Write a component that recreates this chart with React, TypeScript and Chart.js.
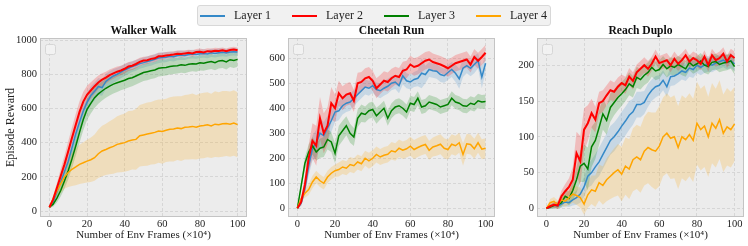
import React, { useEffect, useRef } from 'react';
import { Chart, registerables } from 'chart.js';

Chart.register(...registerables);

const FONT = "'Liberation Serif', 'Times New Roman', Times, serif";
const TEXT = '#222222';
const PLOT_BG = '#ececec';
const GRID = '#d6d6d6';
const FRAME = '#c4c4c4';

const FRAMES = [0, 2, 4, 6, 8, 10, 12, 14, 16, 18, 20, 22, 24, 26, 28, 30, 32, 34, 36, 38, 40, 42, 44, 46, 48, 50, 52, 54, 56, 58, 60, 62, 64, 66, 68, 70, 72, 74, 76, 78, 80, 82, 84, 86, 88, 90, 92, 94, 96, 98, 100];
const X_TICKS = [0, 20, 40, 60, 80, 100];
const LAYERS = ['Layer 1', 'Layer 2', 'Layer 3', 'Layer 4'];
const COLORS = ['#3589c8', '#ff0000', '#008000', '#ffa500'];
const X_TITLE = 'Number of Env Frames (×10⁴)';

// ---------- Walker Walk ----------
const WALKER_TICKS = [0, 200, 400, 600, 800, 1000];
const WALKER_L1 = [22, 55, 110, 170, 230, 290, 370, 450, 520, 585, 635, 675, 700, 728, 722, 758, 775, 790, 800, 812, 825, 835, 845, 852, 862, 868, 875, 880, 888, 895, 898, 900, 905, 903, 910, 912, 910, 916, 918, 915, 920, 921, 918, 925, 922, 926, 928, 925, 930, 932, 930];
const WALKER_L2 = [22, 68, 136, 205, 273, 350, 428, 505, 580, 640, 680, 705, 730, 752, 768, 780, 795, 805, 815, 822, 832, 845, 850, 860, 872, 880, 882, 890, 893, 905, 905, 910, 912, 915, 920, 918, 922, 925, 922, 930, 932, 928, 935, 933, 938, 936, 940, 935, 942, 945, 940];
const WALKER_L3 = [22, 40, 75, 120, 175, 235, 305, 380, 460, 535, 595, 630, 663, 685, 702, 718, 731, 742, 750, 758, 765, 775, 780, 790, 800, 810, 815, 820, 825, 835, 838, 840, 845, 848, 850, 855, 852, 858, 862, 860, 867, 865, 870, 875, 868, 878, 880, 872, 885, 880, 887];
const WALKER_L4 = [22, 70, 117, 160, 200, 225, 244, 258, 273, 282, 292, 300, 312, 335, 351, 360, 370, 378, 390, 395, 400, 410, 415, 419, 440, 445, 450, 455, 460, 468, 465, 472, 478, 480, 485, 482, 490, 492, 495, 490, 497, 500, 505, 498, 508, 505, 510, 512, 508, 515, 505];
const WALKER_L1_SD = [4, 15, 25, 38, 48, 55, 60, 62, 62, 60, 58, 55, 52, 50, 48, 45, 42, 40, 38, 36, 35, 33, 32, 32, 30, 30, 30, 30, 30, 30, 30, 30, 28, 28, 28, 28, 26, 26, 26, 25, 25, 25, 24, 24, 24, 24, 23, 23, 22, 22, 22];
const WALKER_L2_SD = [4, 18, 30, 42, 52, 58, 62, 64, 62, 58, 52, 48, 44, 40, 38, 35, 33, 31, 30, 28, 28, 26, 25, 25, 24, 23, 22, 22, 22, 21, 21, 20, 20, 20, 19, 19, 19, 18, 18, 18, 18, 18, 17, 17, 17, 17, 16, 16, 16, 16, 16];
const WALKER_L3_SD = [4, 15, 25, 35, 45, 50, 55, 58, 60, 62, 62, 60, 60, 58, 56, 55, 55, 54, 54, 52, 52, 52, 50, 50, 50, 50, 50, 48, 48, 48, 48, 48, 47, 47, 46, 46, 46, 45, 45, 45, 45, 45, 44, 44, 44, 44, 44, 44, 43, 43, 43];
const WALKER_L4_SD = [5, 22, 38, 55, 70, 85, 98, 108, 115, 120, 125, 130, 135, 142, 148, 150, 155, 160, 165, 168, 170, 175, 172, 178, 180, 182, 185, 183, 186, 185, 188, 185, 188, 190, 187, 190, 188, 190, 192, 188, 190, 192, 190, 188, 192, 190, 192, 190, 191, 192, 190];

// ---------- Cheetah Run ----------
const CHEETAH_TICKS = [0, 100, 200, 300, 400, 500, 600];
const CHEETAH_L1 = [0, 20, 80, 170, 240, 260, 300, 290, 320, 350, 385, 390, 410, 420, 425, 440, 455, 470, 485, 480, 490, 475, 470, 480, 488, 500, 505, 490, 530, 510, 505, 515, 520, 540, 535, 555, 550, 548, 535, 530, 543, 555, 540, 518, 560, 570, 560, 575, 590, 525, 580];
const CHEETAH_L2 = [0, 25, 95, 200, 270, 250, 360, 300, 330, 420, 400, 460, 440, 455, 460, 430, 500, 505, 520, 525, 510, 480, 495, 510, 505, 520, 530, 525, 550, 555, 575, 565, 570, 580, 590, 595, 585, 580, 575, 568, 560, 570, 580, 585, 590, 595, 575, 605, 590, 605, 622];
const CHEETAH_L3 = [0, 90, 180, 225, 250, 225, 240, 245, 275, 265, 220, 290, 310, 330, 300, 285, 360, 380, 375, 390, 395, 370, 385, 400, 360, 390, 405, 410, 400, 385, 420, 415, 440, 405, 410, 425, 420, 415, 405, 410, 415, 440, 425, 420, 410, 408, 420, 415, 430, 425, 427];
const CHEETAH_L4 = [0, 40, 60, 75, 105, 125, 110, 100, 125, 140, 150, 155, 165, 160, 175, 170, 185, 178, 200, 190, 200, 215, 205, 212, 216, 230, 225, 240, 232, 238, 248, 235, 243, 250, 255, 232, 245, 250, 256, 240, 235, 256, 250, 262, 215, 258, 255, 238, 262, 236, 240];
const CHEETAH_L1_SD = [2, 10, 25, 40, 50, 55, 60, 55, 50, 45, 40, 38, 35, 35, 35, 32, 30, 30, 30, 30, 28, 28, 30, 30, 30, 28, 28, 30, 35, 30, 30, 30, 32, 60, 35, 30, 28, 30, 30, 28, 30, 30, 35, 40, 35, 30, 32, 35, 30, 45, 35];
const CHEETAH_L2_SD = [2, 15, 35, 55, 70, 80, 85, 80, 75, 65, 55, 50, 48, 45, 45, 45, 42, 40, 40, 40, 40, 40, 38, 38, 38, 38, 36, 36, 36, 35, 35, 35, 35, 35, 35, 34, 34, 34, 34, 34, 34, 33, 33, 33, 33, 33, 32, 32, 32, 32, 32];
const CHEETAH_L3_SD = [2, 15, 25, 30, 35, 35, 38, 40, 40, 40, 40, 40, 40, 38, 38, 36, 35, 35, 32, 32, 32, 32, 30, 30, 30, 30, 30, 30, 30, 30, 30, 30, 28, 28, 28, 28, 28, 28, 28, 28, 28, 28, 28, 28, 28, 28, 28, 28, 28, 28, 28];
const CHEETAH_L4_SD = [2, 10, 18, 22, 25, 25, 25, 25, 25, 25, 25, 28, 28, 28, 30, 30, 30, 30, 30, 32, 32, 32, 32, 33, 33, 35, 35, 35, 35, 35, 38, 38, 38, 38, 38, 38, 38, 40, 40, 40, 40, 40, 40, 40, 45, 40, 40, 40, 40, 40, 40];

// ---------- Reach Duplo ----------
const REACH_TICKS = [0, 50, 100, 150, 200];
const REACH_L1 = [0, 2, 5, 3, 6, 9, 8, 12, 15, 20, 30, 45, 50, 58, 65, 75, 85, 95, 100, 107, 115, 122, 130, 135, 145, 145, 148, 158, 165, 170, 172, 179, 170, 184, 185, 188, 192, 190, 196, 194, 200, 197, 200, 202, 200, 203, 205, 207, 204, 206, 202];
const REACH_L2 = [0, 3, 5, 4, 17, 24, 30, 40, 77, 66, 110, 119, 133, 124, 147, 150, 158, 165, 163, 170, 175, 172, 184, 178, 190, 195, 200, 195, 202, 212, 203, 205, 207, 200, 209, 202, 207, 214, 205, 210, 207, 202, 212, 200, 214, 207, 210, 216, 205, 214, 210];
const REACH_L3 = [0, 2, 4, 5, 8, 17, 14, 25, 40, 59, 63, 55, 86, 95, 113, 132, 123, 141, 148, 155, 160, 166, 174, 170, 183, 180, 186, 190, 197, 192, 194, 201, 195, 199, 197, 201, 198, 195, 204, 199, 202, 206, 200, 198, 204, 205, 201, 203, 204, 206, 198];
const REACH_L4 = [0, 8, 10, 5, 12, 10, 15, 20, 18, 15, 6, 19, 26, 24, 36, 32, 40, 45, 50, 54, 48, 59, 55, 68, 72, 68, 80, 85, 82, 80, 87, 100, 105, 98, 100, 85, 100, 96, 103, 95, 119, 110, 115, 100, 119, 112, 124, 105, 114, 110, 118];
const REACH_L1_SD = [1, 3, 4, 4, 5, 6, 6, 8, 10, 12, 14, 16, 18, 18, 20, 20, 20, 20, 20, 20, 20, 20, 20, 18, 18, 18, 16, 16, 15, 15, 14, 14, 14, 13, 13, 12, 12, 12, 12, 12, 11, 11, 11, 11, 10, 10, 10, 10, 10, 10, 10];
const REACH_L2_SD = [1, 3, 4, 5, 8, 10, 12, 18, 30, 35, 30, 25, 20, 18, 16, 15, 14, 14, 13, 13, 12, 12, 12, 12, 11, 11, 11, 11, 10, 10, 10, 10, 10, 10, 10, 10, 10, 9, 9, 9, 9, 9, 9, 9, 9, 9, 9, 9, 9, 9, 9];
const REACH_L3_SD = [1, 3, 4, 5, 6, 8, 10, 14, 18, 22, 26, 30, 28, 26, 24, 22, 20, 20, 18, 18, 17, 16, 16, 15, 15, 14, 14, 14, 13, 13, 13, 12, 12, 12, 12, 12, 12, 11, 11, 11, 11, 11, 11, 11, 11, 11, 11, 11, 11, 11, 11];
const REACH_L4_SD = [1, 5, 6, 6, 8, 8, 10, 12, 13, 14, 15, 18, 20, 22, 25, 27, 30, 32, 34, 36, 38, 40, 42, 44, 45, 46, 48, 50, 52, 54, 56, 55, 56, 57, 58, 58, 58, 58, 58, 58, 58, 57, 57, 56, 56, 55, 55, 54, 54, 53, 52];

type PanelCfg = {
  title: string;
  left: number;
  width: number;
  axisWidth: number;
  padRight: number;
  yMin: number;
  yMax: number;
  yTicks: number[];
  yTitle: string | null;
  means: number[][];
  sds: number[][];
};

const PANELS: PanelCfg[] = [
  {
    title: 'Walker Walk', left: 0, width: 250, axisWidth: 40, padRight: 3,
    yMin: -35, yMax: 1012, yTicks: WALKER_TICKS, yTitle: 'Episode Reward',
    means: [WALKER_L1, WALKER_L2, WALKER_L3, WALKER_L4],
    sds: [WALKER_L1_SD, WALKER_L2_SD, WALKER_L3_SD, WALKER_L4_SD],
  },
  {
    title: 'Cheetah Run', left: 250, width: 250, axisWidth: 38, padRight: 5,
    yMin: -35, yMax: 681, yTicks: CHEETAH_TICKS, yTitle: null,
    means: [CHEETAH_L1, CHEETAH_L2, CHEETAH_L3, CHEETAH_L4],
    sds: [CHEETAH_L1_SD, CHEETAH_L2_SD, CHEETAH_L3_SD, CHEETAH_L4_SD],
  },
  {
    title: 'Reach Duplo', left: 500, width: 248, axisWidth: 37, padRight: 4,
    yMin: -12, yMax: 238, yTicks: REACH_TICKS, yTitle: null,
    means: [REACH_L1, REACH_L2, REACH_L3, REACH_L4],
    sds: [REACH_L1_SD, REACH_L2_SD, REACH_L3_SD, REACH_L4_SD],
  },
];

// draw priority: lower = drawn later (on top)
const LINE_ORDER = [4, 1, 3, 2];

function rgba(hex: string, a: number) {
  const n = parseInt(hex.slice(1), 16);
  return `rgba(${(n >> 16) & 255},${(n >> 8) & 255},${n & 255},${a})`;
}

function buildDatasets(cfg: PanelCfg) {
  const ds: any[] = [];
  for (let i = 0; i < 4; i++) {
    const m = cfg.means[i];
    const s = cfg.sds[i];
    ds.push({
      label: LAYERS[i] + ' upper',
      data: FRAMES.map((x, k) => ({ x, y: m[k] + s[k] })),
      borderWidth: 0,
      borderColor: 'rgba(0,0,0,0)',
      pointRadius: 0,
      fill: '+1',
      backgroundColor: rgba(COLORS[i], 0.2),
      order: 20 + LINE_ORDER[i],
    });
    ds.push({
      label: LAYERS[i] + ' lower',
      data: FRAMES.map((x, k) => ({ x, y: m[k] - s[k] })),
      borderWidth: 0,
      borderColor: 'rgba(0,0,0,0)',
      pointRadius: 0,
      fill: false,
      order: 20 + LINE_ORDER[i],
    });
  }
  for (let i = 0; i < 4; i++) {
    const m = cfg.means[i];
    ds.push({
      label: LAYERS[i],
      data: FRAMES.map((x, k) => ({ x, y: m[k] })),
      borderColor: COLORS[i],
      borderWidth: i === 1 ? 2 : 1.5,
      pointRadius: 0,
      fill: false,
      tension: 0,
      order: LINE_ORDER[i],
    });
  }
  return ds;
}

const framePlugin = {
  id: 'axesFrame',
  beforeDraw(chart: any) {
    const { ctx, chartArea: a } = chart;
    ctx.save();
    ctx.fillStyle = PLOT_BG;
    ctx.fillRect(a.left, a.top, a.right - a.left, a.bottom - a.top);
    ctx.restore();
  },
  afterDraw(chart: any) {
    const { ctx, chartArea: a } = chart;
    const title = chart.options.plugins.panelTitle.text;
    ctx.save();
    ctx.lineWidth = 1;
    ctx.fillStyle = 'rgba(243,243,243,0.9)';
    ctx.strokeStyle = '#d6d6d6';
    ctx.beginPath();
    ctx.roundRect(a.left + 5.5, a.top + 6.5, 10, 10, 2);
    ctx.fill();
    ctx.stroke();
    ctx.strokeStyle = FRAME;
    ctx.strokeRect(a.left + 0.5, a.top + 0.5, a.right - a.left - 1, a.bottom - a.top - 1);
    // panel title, centred over the plot area
    ctx.fillStyle = '#111111';
    ctx.font = `bold 11.6px ${FONT}`;
    ctx.textAlign = 'center';
    ctx.textBaseline = 'alphabetic';
    ctx.fillText(title, (a.left + a.right) / 2, 34);
    ctx.restore();
  },
};

function Panel({ cfg }: { cfg: PanelCfg }) {
  const ref = useRef<HTMLCanvasElement>(null);
  useEffect(() => {
    const chart = new Chart(ref.current as HTMLCanvasElement, {
      type: 'line',
      data: { datasets: buildDatasets(cfg) },
      options: {
        responsive: false,
        maintainAspectRatio: false,
        animation: false,
        devicePixelRatio: 1,
        events: [],
        layout: { padding: { left: 0, right: cfg.padRight, top: 38, bottom: 0 } },
        plugins: {
          legend: { display: false },
          tooltip: { enabled: false },
          title: { display: false },
          panelTitle: { text: cfg.title },
        },
        scales: {
          x: {
            type: 'linear',
            min: -5,
            max: 105,
            afterBuildTicks: (s: any) => {
              s.ticks = X_TICKS.map((v) => ({ value: v }));
            },
            afterFit: (s: any) => {
              s.height = 29;
            },
            ticks: {
              padding: 1,
              maxRotation: 0,
              color: TEXT,
              font: { family: FONT, size: 10.5 },
              callback: (v: any) => String(v),
            },
            grid: { color: GRID, lineWidth: 1, drawTicks: false },
            border: { display: false, dash: [3, 2] },
            title: {
              display: true,
              text: X_TITLE,
              color: TEXT,
              font: { family: FONT, size: 11, lineHeight: 1.2 },
              padding: { top: 0, bottom: 4 },
            },
          },
          y: {
            type: 'linear',
            min: cfg.yMin,
            max: cfg.yMax,
            afterBuildTicks: (s: any) => {
              s.ticks = cfg.yTicks.map((v) => ({ value: v }));
            },
            afterFit: (s: any) => {
              s.width = cfg.axisWidth;
            },
            ticks: {
              padding: 3,
              color: TEXT,
              font: { family: FONT, size: 10.5 },
              callback: (v: any) => String(v),
            },
            grid: { color: GRID, lineWidth: 1, drawTicks: false },
            border: { display: false, dash: [3, 2] },
            title: cfg.yTitle
              ? {
                  display: true,
                  text: cfg.yTitle,
                  color: TEXT,
                  font: { family: FONT, size: 12, lineHeight: 1.2 },
                  padding: { top: 4, bottom: 0 },
                }
              : { display: false },
          },
        },
      } as any,
      plugins: [framePlugin],
    });
    return () => chart.destroy();
  }, [cfg]);
  return (
    <canvas
      ref={ref}
      width={cfg.width}
      height={246}
      style={{ position: 'absolute', left: cfg.left, top: 0, width: cfg.width, height: 246 }}
    />
  );
}

export default function App() {
  return (
    <div
      style={{
        position: 'fixed',
        left: 0,
        top: 0,
        width: 748,
        height: 246,
        background: '#ffffff',
        overflow: 'hidden',
        fontFamily: FONT,
      }}
    >
      {PANELS.map((p) => (
        <Panel key={p.title} cfg={p} />
      ))}
      <div
        style={{
          position: 'absolute',
          left: 197,
          top: 5,
          width: 354,
          height: 21,
          boxSizing: 'border-box',
          background: '#f1f1f1',
          border: '1px solid #d8d8d8',
          borderRadius: 3,
          zIndex: 2,
        }}
      />
      {LAYERS.map((name, i) => (
        <div
          key={name}
          style={{
            position: 'absolute',
            left: 200 + 92 * i,
            top: 5,
            height: 21,
            display: 'flex',
            alignItems: 'center',
            zIndex: 3,
          }}
        >
          <span style={{ display: 'inline-block', width: 25, height: 2, background: COLORS[i] }} />
          <span style={{ marginLeft: 9, fontSize: 12, color: TEXT, lineHeight: '21px', whiteSpace: 'nowrap' }}>{name}</span>
        </div>
      ))}
    </div>
  );
}
